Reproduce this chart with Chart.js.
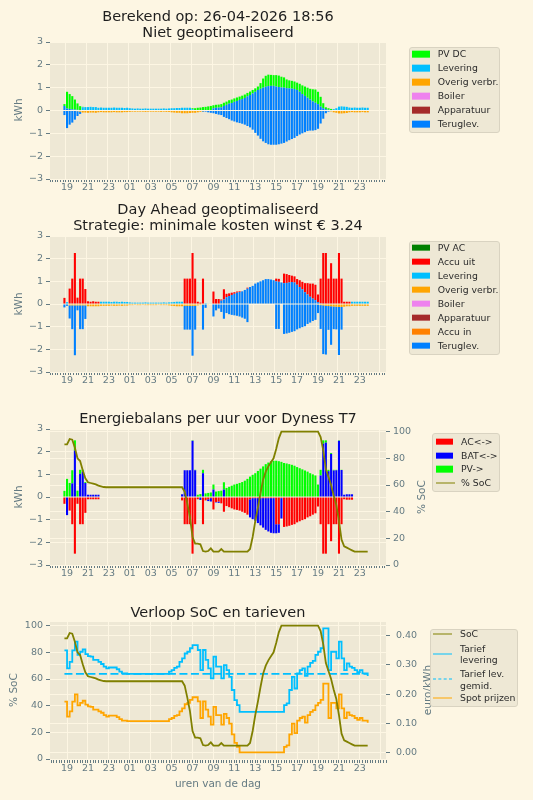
<!DOCTYPE html>
<html lang="nl">
<head>
<meta charset="utf-8">
<title>Day Ahead</title>
<script src="https://cdn.jsdelivr.net/npm/chart.js@4.4.1/dist/chart.umd.min.js"></script>
<style>
  body { margin: 0; background: #fdf6e3; font-family: "DejaVu Sans", sans-serif; }
  #pagina { position: relative; width: 533px; height: 800px; overflow: hidden; }
  canvas { position: absolute; left: 0; }
  .titel { position: absolute; left: 0; width: 436px; text-align: center; font-size: 14.5px; line-height: 16.5px; color: #1e1e1e; }
  .aslabel { position: absolute; font-size: 10.5px; color: #657b83; white-space: nowrap; transform: translate(-50%, -50%) rotate(-90deg); }
  .xlabel { position: absolute; font-size: 10.5px; color: #657b83; white-space: nowrap; transform: translate(-50%, -50%); }
  .legenda { position: absolute; box-sizing: border-box; background: #eee8d5; border: 1px solid #d9d3c1; border-radius: 3px; }
  .tekst { position: absolute; font-size: 9.3px; line-height: 11.5px; color: #2b2b2b; white-space: pre; transform: translateY(-50%); }
  .vlak, .lijn { position: absolute; transform: translateY(-50%); }
</style>
</head>
<body>
<div id="pagina">
  <canvas id="c1" width="533" height="200" style="top:0px"></canvas>
  <canvas id="c2" width="533" height="195" style="top:200px"></canvas>
  <canvas id="c3" width="533" height="195" style="top:395px"></canvas>
  <canvas id="c4" width="533" height="210" style="top:590px"></canvas>

  <div class="titel" style="top:7.5px">Berekend op: 26-04-2026 18:56<br>Niet geoptimaliseerd</div>
  <div class="titel" style="top:200.8px">Day Ahead geoptimaliseerd<br>Strategie: minimale kosten winst € 3.24</div>
  <div class="titel" style="top:410px">Energiebalans per uur voor Dyness T7</div>
  <div class="titel" style="top:603.5px">Verloop SoC en tarieven</div>

  <div class="aslabel" style="left:18px; top:110px">kWh</div>
  <div class="aslabel" style="left:18px; top:304px">kWh</div>
  <div class="aslabel" style="left:18px; top:497px">kWh</div>
  <div class="aslabel" style="left:421px; top:497px">% SoC</div>
  <div class="aslabel" style="left:13px; top:690px">% SoC</div>
  <div class="aslabel" style="left:427px; top:690px">euro/kWh</div>
  <div class="xlabel" style="left:218px; top:783px">uren van de dag</div>
</div>
<script>
// kwartierwaarden van 18:45 vandaag t/m 23:45 morgen (117 stuks)
const N = 117;
const tijden = [];
for (let i = 0; i < N; i++) tijden.push(-0.25 + 0.25 * i); // uren na 19:00

// ---- Niet geoptimaliseerd (kWh per kwartier)
const n_levering = [
  0,
  0,0,0,0,            0,0,.14,.15,        .15,.16,.15,.15,    .12,.13,.12,.12,    .12,.12,.13,.12,
  .12,.12,.11,.12,    .1,.09,.08,.09,     .08,.08,.09,.08,    .08,.08,.08,.08,    .08,.09,.08,.09,
  .1,.1,.11,.11,      .12,.12,.12,.12,    .06,0,0,0,          0,0,0,0,            0,0,0,0,
  0,0,0,0,            0,0,0,0,            0,0,0,0,            0,0,0,0,            0,0,0,0,
  0,0,0,0,            0,0,0,0,            0,0,0,0,            0,0,0,0,            0,0,0,0,
  0,.02,.06,.1,       .17,.18,.17,.16,    .13,.12,.13,.12,    .12,.13,.12,.12
];
const n_terugPos = [
  .2,
  .09,.07,.05,.04,    .03,.02,0,0,        0,0,0,0,            0,0,0,0,            0,0,0,0,
  0,0,0,0,            0,0,0,0,            0,0,0,0,            0,0,0,0,            0,0,0,0,
  0,0,0,0,            0,0,0,0,            0,0,0,0,            0,0,0,0,            .1,.12,.13,.14,
  .2,.25,.3,.33,      .38,.42,.46,.5,     .55,.62,.68,.75,    .82,.9,.95,1.0,     1.04,1.07,1.08,1.08,
  1.05,1.03,1.01,1.0, .98,.97,.96,.94,    .9,.82,.72,.64,     .56,.48,.4,.34,     .28,.17,.1,.06,
  .03,0,0,0,          0,0,0,0,            0,0,0,0,            0,0,0,0
];
const n_pvdc = [
  .08,
  .73,.65,.58,.44,    .28,.17,.02,0,      0,0,0,0,            0,0,0,0,            0,0,0,0,
  0,0,0,0,            0,0,0,0,            0,0,0,0,            0,0,0,0,            0,0,0,0,
  0,0,0,0,            0,0,0,0,            .04,.1,.12,.13,     .15,.16,.18,.2,     .13,.13,.13,.14,
  .14,.14,.15,.15,    .15,.15,.15,.15,    .15,.15,.15,.15,    .15,.15,.25,.4,     .48,.5,.48,.47,
  .5,.5,.47,.45,      .38,.35,.34,.33,    .32,.35,.38,.41,    .44,.47,.53,.58,    .54,.43,.22,.08,
  .07,.05,0,0,        0,0,0,0,            0,0,0,0,            0,0,0,0
];
const n_overig = [
  0,
  0,0,0,0,            -.03,-.05,-.09,-.09, -.1,-.09,-.09,-.1, -.08,-.07,-.08,-.08, -.08,-.08,-.07,-.08,
  -.08,-.08,-.07,-.07, -.06,-.05,-.05,-.05, -.05,-.05,-.06,-.05, -.05,-.05,-.05,-.05, -.06,-.05,-.06,-.06,
  -.08,-.09,-.1,-.1,  -.12,-.12,-.12,-.11, -.1,-.1,-.08,-.06, -.03,0,0,0,         0,0,0,0,
  0,0,0,0,            0,0,0,0,            0,0,0,0,            0,0,0,0,            0,0,0,0,
  0,0,0,0,            0,0,0,0,            0,0,0,0,            0,0,0,0,            0,0,0,0,
  0,-.04,-.08,-.1,    -.13,-.13,-.12,-.11, -.08,-.07,-.08,-.08, -.08,-.07,-.08,-.08
];
const n_teruglevering = [
  -.2,
  -.77,-.62,-.53,-.4, -.21,-.1,0,0,       0,0,0,0,            0,0,0,0,            0,0,0,0,
  0,0,0,0,            0,0,0,0,            0,0,0,0,            0,0,0,0,            0,0,0,0,
  0,0,0,0,            0,0,0,0,            0,0,0,0,            -.03,-.05,-.08,-.1, -.12,-.15,-.18,-.2,
  -.28,-.33,-.38,-.44, -.48,-.52,-.55,-.58, -.62,-.68,-.74,-.84, -.98,-1.1,-1.24,-1.35, -1.42,-1.48,-1.5,-1.5,
  -1.5,-1.48,-1.45,-1.42, -1.36,-1.3,-1.25,-1.2, -1.12,-1.05,-1.0,-.95, -.9,-.88,-.88,-.86, -.8,-.57,-.36,-.12,
  -.05,0,0,0,         0,0,0,0,            0,0,0,0,            0,0,0,0
];

// ---- Day Ahead geoptimaliseerd (kWh per kwartier)
const d_levering = [
  0,
  .08,0,0,0,          0,0,0,0,            0,0,0,0,            0,.1,.1,.1,         .1,.09,.1,.1,
  .09,.1,.09,.09,     .07,.06,.06,.06,    .06,.06,.07,.06,    .06,.06,.06,.06,    .06,.07,.06,.07,
  .08,.09,.1,.1,      .1,0,0,0,           0,0,0,0,            0,.04,.02,.02,      0,0,0,0,
  0,0,0,0,            0,0,0,0,            0,0,0,0,            0,0,0,0,            0,0,0,0,
  0,0,0,0,            0,0,0,0,            0,0,0,0,            0,0,0,0,            0,0,0,0,
  0,0,0,0,            0,0,0,0,            0,.1,.1,.1,         .1,.1,.1,.1
];
const d_terugPos = [
  0,
  0,0,0,0,            0,0,0,0,            0,0,0,0,            0,0,0,0,            0,0,0,0,
  0,0,0,0,            0,0,0,0,            0,0,0,0,            0,0,0,0,            0,0,0,0,
  0,0,0,0,            0,0,0,0,            0,0,0,0,            0,0,0,0,            0,0,0,.15,
  .2,.3,.35,.4,       .45,.5,.53,.56,     .62,.68,.75,.8,     .9,.95,1.0,1.05,    1.1,1.1,1.08,1.05,
  1.0,.98,.95,.92,    .93,.95,.97,.95,    .85,.75,.65,.52,    .42,.32,.24,.17,    .08,.03,0,0,
  0,0,0,0,            0,0,0,0,            0,0,0,0,            0,0,0,0
];
const d_accuUit = [
  .27,
  0,.68,1.12,2.25,    .28,1.12,1.12,.66,  .12,.1,.12,.1,      .1,0,0,0,           0,0,0,0,
  0,0,0,0,            0,0,0,0,            0,0,0,0,            0,0,0,0,            0,0,0,0,
  0,0,0,0,            0,1.12,1.12,1.12,   2.25,1.12,.1,.06,   1.12,0,0,0,         .55,.22,.22,.05,
  .45,.15,.12,.1,     .07,.05,.03,0,      0,.04,0,0,          0,0,0,0,            0,0,0,0,
  .12,.13,0,.42,      .39,.33,.28,.27,    .25,.3,.33,.4,      .5,.58,.66,.68,     .34,1.09,2.25,2.25,
  1.12,1.8,1.12,1.12, 2.25,1.12,.1,.1,    .1,0,0,0,           0,0,0,0
];
const d_overig = [
  0,
  0,-.06,-.06,-.06,   -.06,-.06,-.06,-.06, -.1,-.1,-.1,-.1,   -.1,-.08,-.08,-.08, -.08,-.07,-.08,-.08,
  -.07,-.08,-.07,-.07, -.05,-.05,-.04,-.05, -.05,-.04,-.05,-.05, -.05,-.05,-.05,-.04, -.05,-.05,-.05,-.06,
  -.08,-.09,-.1,-.1,  -.1,-.08,-.08,-.08, -.08,-.08,-.06,-.04, -.03,-.02,-.03,-.02, 0,0,0,0,
  0,0,0,0,            0,0,0,0,            0,0,0,0,            0,0,0,0,            0,0,0,0,
  0,0,0,0,            0,0,0,0,            0,0,0,0,            0,0,0,0,            -.03,-.05,-.06,-.08,
  -.09,-.1,-.11,-.12, -.13,-.13,-.12,-.1, -.1,-.08,-.08,-.08, -.08,-.08,-.08,-.08
];
const d_teruglevering = [
  -.15,
  -.08,-.58,-1.05,-2.2, -.22,-1.05,-1.05,-.6, 0,0,0,0,        0,0,0,0,            0,0,0,0,
  0,0,0,0,            0,0,0,0,            0,0,0,0,            0,0,0,0,            0,0,0,0,
  0,0,0,0,            0,-1.05,-1.05,-1.05, -2.2,-1.05,0,0,    -1.1,-.15,0,0,      -.55,-.28,-.2,-.35,
  -.65,-.4,-.45,-.48, -.5,-.52,-.55,-.6,  -.65,-.8,0,0,       0,0,0,0,            0,0,0,0,
  -1.1,-1.1,0,-1.32,  -1.3,-1.27,-1.23,-1.2, -1.12,-1.07,-1.02,-.98, -.88,-.82,-.75,-.7, -.37,-1.05,-2.15,-2.15,
  -1.05,-1.7,-1.0,-1.0, -2.12,-1.0,0,0,   0,0,0,0,            0,0,0,0
];

// ---- Energiebalans Dyness T7 (kWh per kwartier)
const e_ac = [
  -.3,
  0,-.6,-1.2,-2.5,    -.3,-1.2,-1.2,-.7,  -.1,-.1,-.1,-.1,    -.1,0,0,0,          0,0,0,0,
  0,0,0,0,            0,0,0,0,            0,0,0,0,            0,0,0,0,            0,0,0,0,
  0,0,0,0,            -.15,-1.2,-1.2,-1.2, -2.5,-1.2,-.1,0,   -1.2,-.15,-.1,-.05, -.55,-.22,-.2,-.28,
  -.65,-.4,-.45,-.5,  -.55,-.57,-.6,-.65, -.7,-.78,-.1,-.05,  -.05,-.05,-.05,-.05, -.05,-.05,-.05,-.05,
  -1.2,-1.2,-.05,-1.32, -1.3,-1.27,-1.23,-1.2, -1.12,-1.07,-1.02,-.98, -.9,-.85,-.78,-.72, -.42,-1.2,-2.5,-2.5,
  -1.2,-1.95,-1.2,-1.2, -2.5,-1.2,-.1,-.12, -.12,-.12,0,0,      0,0,0,0
];
const e_bat = [
  0,
  -.8,0,.6,2.05,      0,1.02,1.12,.62,    .1,.1,.1,.1,        .1,0,0,0,           0,0,0,0,
  0,0,0,0,            0,0,0,0,            0,0,0,0,            0,0,0,0,            0,0,0,0,
  0,0,0,0,            .12,1.18,1.18,1.18, 2.48,1.18,.02,-.13, 1.05,0,-.08,-.15,   .33,-.02,-.06,0,
  .33,0,0,0,          0,0,0,0,            0,0,-.8,-.93,       -1.0,-1.1,-1.2,-1.3, -1.4,-1.47,-1.53,-1.55,
  -.4,-.38,-.9,0,     0,0,0,0,            0,0,0,0,            0,0,0,0,            0,.95,2.35,2.4,
  1.14,1.9,1.17,1.18, 2.48,1.19,.1,.12,   .12,.12,0,0,        0,0,0,0
];
const e_pv = [
  .27,
  .8,.62,.58,.45,     .28,.18,.08,.04,    0,0,0,0,            0,0,0,0,            0,0,0,0,
  0,0,0,0,            0,0,0,0,            0,0,0,0,            0,0,0,0,            0,0,0,0,
  0,0,0,0,            0,0,0,0,            .02,.02,.08,.13,    .15,.16,.18,.2,     .22,.24,.26,.28,
  .32,.4,.45,.5,      .55,.58,.62,.66,    .72,.8,.9,.98,      1.05,1.15,1.25,1.35, 1.45,1.52,1.58,1.6,
  1.6,1.58,1.55,1.5,  1.48,1.45,1.42,1.38, 1.32,1.27,1.22,1.17, 1.12,1.05,1.0,.95, .55,.25,.15,.1,
  .06,.04,.03,.02,    .02,.01,0,0,        0,0,0,0,            0,0,0,0
];
const soc = [
  90.5,
  90.5,94.5,94,88,    80,78,71,65,        62,61.5,61,60.5,    59.5,59,58.5,58.3,  58.3,58.3,58.3,58.3,
  58.3,58.3,58.3,58.3, 58.3,58.3,58.3,58.3, 58.3,58.3,58.3,58.3, 58.3,58.3,58.3,58.3, 58.3,58.3,58.3,58.3,
  58.3,58.3,58.3,58.3, 58.3,55,46,36,     21,16,16,15.5,      10.5,10,10.5,12.5,  10,10,10,12,
  10,10,10,10,        10,10,10,10,        10,10,12,21,        33,43,54,64,        70,74,77,80,
  87,95,100,100,      100,100,100,100,    100,100,100,100,    100,100,100,100,    100,96,86,72,
  66,60,52,45,        33,19,14,13,        12,11,10,10,        10,10,10,10
];

// ---- Tarieven (euro/kWh)
const tariefLevering = [
  .35,
  .288,.31,.35,.38,   .334,.345,.353,.337, .33,.328,.317,.317, .31,.303,.294,.288, .291,.291,.291,.285,
  .277,.271,.271,.269, .269,.269,.269,.269, .269,.269,.269,.269, .269,.269,.269,.269, .269,.269,.269,.277,
  .282,.29,.294,.31,  .322,.339,.345,.357, .368,.368,.351,.282, .351,.317,.288,.254, .328,.294,.294,.254,
  .299,.282,.259,.214, .179,.162,.139,.139, .139,.139,.139,.139, .139,.139,.139,.139, .139,.139,.139,.139,
  .139,.139,.139,.162, .168,.214,.259,.219, .271,.282,.288,.262, .294,.307,.314,.334, .345,.357,.425,.425,
  .282,.345,.345,.322, .38,.322,.282,.305, .294,.29,.282,.275, .282,.271,.271,.262
];
const spotPrijs = [
  .174,
  .123,.141,.174,.199, .161,.17,.177,.164, .158,.156,.147,.147, .141,.136,.128,.123, .126,.126,.126,.121,
  .114,.109,.109,.107, .107,.107,.107,.107, .107,.107,.107,.107, .107,.107,.107,.107, .107,.107,.107,.114,
  .118,.125,.128,.141, .151,.165,.17,.18,  .189,.189,.175,.118, .175,.147,.123,.095, .156,.128,.128,.095,
  .132,.118,.099,.062, .033,.019,0,0,      0,0,0,0,            0,0,0,0,            0,0,0,0,
  0,0,0,.019,         .024,.062,.099,.066, .109,.118,.123,.102, .128,.139,.145,.161, .17,.18,.236,.236,
  .118,.17,.17,.151,  .199,.151,.118,.137, .128,.125,.118,.112, .118,.109,.109,.102
];
const tariefGemid = 0.269;

const yTicksKwh = [-3, -2, -1, 0, 1, 2, 3];
const yTicksSoc = [0, 20, 40, 60, 80, 100];
const yTicksEuro = [0, 0.1, 0.2, 0.3, 0.4];

[n_levering, n_terugPos, n_pvdc, n_overig, n_teruglevering, d_levering, d_terugPos, d_accuUit,
 d_overig, d_teruglevering, e_ac, e_bat, e_pv, soc, tariefLevering, spotPrijs].forEach((r, k) => {
  if (r.length !== N) throw new Error('reeks ' + k + ' heeft lengte ' + r.length);
});

// kleuren
const tickKleur = '#657b83';
const rasterKleur = '#fdf6e3';
const vlakKleur = '#eee8d5';
const kPV = '#00ff00', kLev = '#00bfff', kOverig = '#ffa500', kBoiler = '#ee82ee', kApp = '#a52a2a',
      kTerug = '#0080ff', kPVac = '#008000', kUit = '#ff0000', kIn = '#ff8000', kBat = '#0000ff', kSoc = '#808000';

// hulpfuncties
const kwartierTicks = [];
for (let v = -1.5; v <= 30.5 + 1e-9; v += 0.25) kwartierTicks.push(v);
const isHoofd = v => Math.abs(v / 2 - Math.round(v / 2)) < 1e-6;
const uurLabel = v => String((19 + Math.round(v)) % 24).padStart(2, '0');
const min = '\u2212';
const punten = r => r.map((y, i) => ({ x: tijden[i], y }));

function xSchaal(hoogte) {
  return {
    type: 'linear', min: -1.63, max: 30.5, stacked: true, offset: false,
    afterBuildTicks: s => { s.ticks = kwartierTicks.map(v => ({ value: v })); },
    afterFit: s => { s.height = hoogte; },
    ticks: { autoSkip: false, maxRotation: 0, minRotation: 0, padding: 0, color: tickKleur,
             font: { family: 'DejaVu Sans', size: 9.5 },
             callback: v => (isHoofd(v) && v <= 28.01) ? uurLabel(v) : '' },
    grid: { color: c => (c.tick && isHoofd(c.tick.value)) ? rasterKleur : 'rgba(0,0,0,0)',
            lineWidth: 1, tickColor: tickKleur, tickLength: 3 },
    border: { display: false }
  };
}
function ySchaal(positie, lo, hi, ticks, fmt, breedte, pad) {
  return {
    type: 'linear', position: positie, min: lo, max: hi,
    afterBuildTicks: s => { s.ticks = ticks.map(v => ({ value: v })); },
    afterFit: s => { s.width = breedte; },
    ticks: { color: tickKleur, padding: pad, font: { family: 'DejaVu Sans', size: 9.5 }, callback: fmt },
    grid: { color: rasterKleur, lineWidth: 1, tickColor: tickKleur, tickLength: 4 },
    border: { display: false }
  };
}
const fmtInt = v => (v < 0 ? min + Math.abs(v) : String(v));
const fmtEuro = v => v.toFixed(2);

const achtergrond = {
  id: 'achtergrond',
  beforeDraw(c) {
    const a = c.chartArea, ctx = c.ctx;
    ctx.save(); ctx.fillStyle = vlakKleur; ctx.fillRect(a.left, a.top, a.width, a.height); ctx.restore();
  }
};

function staaf(label, reeks, kleur) {
  return { type: 'bar', label, data: punten(reeks), backgroundColor: kleur, borderWidth: 0,
           barPercentage: 0.8, categoryPercentage: 1, order: 1, yAxisID: 'y' };
}
function basisOpties(padTop, padRechts, xHoogte) {
  return {
    responsive: false, animation: false, devicePixelRatio: 1,
    layout: { padding: { top: padTop, right: padRechts, bottom: 0, left: 0 } },
    plugins: { legend: { display: false }, tooltip: { enabled: false }, title: { display: false } },
    scales: { x: xSchaal(xHoogte) }
  };
}

Chart.defaults.font.family = 'DejaVu Sans';

// Paneel 1
const o1 = basisOpties(42, 147, 21);
o1.scales.y = Object.assign(ySchaal('left', -3, 3, yTicksKwh, fmtInt, 50, 3), { stacked: true });
new Chart(document.getElementById('c1'), {
  type: 'bar',
  data: { datasets: [
    staaf('Levering', n_levering, kLev),
    staaf('Teruglev.', n_terugPos, kTerug),
    staaf('PV DC', n_pvdc, kPV),
    staaf('Overig verbr.', n_overig, kOverig),
    staaf('Teruglev.', n_teruglevering, kTerug)
  ] },
  options: o1, plugins: [achtergrond]
});

// Paneel 2
const o2 = basisOpties(36, 147, 23);
o2.scales.y = Object.assign(ySchaal('left', -3, 3, yTicksKwh, fmtInt, 50, 3), { stacked: true });
new Chart(document.getElementById('c2'), {
  type: 'bar',
  data: { datasets: [
    staaf('Levering', d_levering, kLev),
    staaf('Teruglev.', d_terugPos, kTerug),
    staaf('Accu uit', d_accuUit, kUit),
    staaf('Overig verbr.', d_overig, kOverig),
    staaf('Teruglev.', d_teruglevering, kTerug)
  ] },
  options: o2, plugins: [achtergrond]
});

// Paneel 3
const o3 = basisOpties(34, 87, 25);
o3.scales.y = Object.assign(ySchaal('left', -3, 3, yTicksKwh, fmtInt, 50, 3), { stacked: true });
o3.scales.y2 = ySchaal('right', 0, 102, yTicksSoc, fmtInt, 60, 3);
new Chart(document.getElementById('c3'), {
  type: 'bar',
  data: { datasets: [
    { type: 'line', label: '% SoC', data: punten(soc), borderColor: kSoc, borderWidth: 1.8,
      pointRadius: 0, tension: 0, yAxisID: 'y2', order: 0 },
    staaf('AC<->', e_ac, kUit),
    staaf('BAT<->', e_bat, kBat),
    staaf('PV->', e_pv, kPV)
  ] },
  options: o3, plugins: [achtergrond]
});

// Paneel 4
const o4 = basisOpties(32, 87, 40);
o4.scales.x.stacked = false;
o4.scales.y = ySchaal('left', -0.75, 102.75, yTicksSoc, fmtInt, 50, 3);
o4.scales.y2 = ySchaal('right', -0.026, 0.447, yTicksEuro, fmtEuro, 60, 6);
new Chart(document.getElementById('c4'), {
  type: 'line',
  data: { datasets: [
    { label: 'SoC', data: punten(soc), borderColor: kSoc, borderWidth: 1.8, pointRadius: 0, tension: 0, yAxisID: 'y' },
    { label: 'Tarief levering', data: punten(tariefLevering), borderColor: kLev, borderWidth: 1.8,
      pointRadius: 0, stepped: true, yAxisID: 'y2' },
    { label: 'Tarief lev. gemid.', data: [{ x: tijden[0], y: tariefGemid }, { x: tijden[N - 1], y: tariefGemid }],
      borderColor: kLev, borderWidth: 1.8, borderDash: [8, 3.5], pointRadius: 0, yAxisID: 'y2' },
    { label: 'Spot prijzen', data: punten(spotPrijs), borderColor: kOverig, borderWidth: 1.8,
      pointRadius: 0, stepped: true, yAxisID: 'y2' }
  ] },
  options: o4, plugins: [achtergrond]
});

// Legenda's (HTML)
const pagina = document.getElementById('pagina');
function legenda(box, handleX, tekstX, rijen) {
  const d = document.createElement('div');
  d.className = 'legenda';
  Object.assign(d.style, { left: box[0] + 'px', top: box[1] + 'px', width: box[2] + 'px', height: box[3] + 'px' });
  pagina.appendChild(d);
  rijen.forEach(r => {
    const h = document.createElement('div');
    if (r.soort === 'vlak') {
      h.className = 'vlak';
      Object.assign(h.style, { left: handleX + 'px', top: r.y + 'px', width: '17.7px', height: '6.7px', background: r.kleur });
    } else {
      h.className = 'lijn';
      Object.assign(h.style, { left: handleX + 'px', top: r.y + 'px', width: '19px', height: '0px',
        borderTop: '1.8px ' + (r.soort === 'streep' ? 'dashed ' : 'solid ') + r.kleur });
    }
    pagina.appendChild(h);
    const t = document.createElement('div');
    t.className = 'tekst';
    t.textContent = r.label;
    Object.assign(t.style, { left: tekstX + 'px', top: r.y + 'px' });
    pagina.appendChild(t);
  });
}
const rij = (label, kleur, y, soort) => ({ label, kleur, y, soort: soort || 'vlak' });

legenda([409, 47, 91, 86], 412.3, 437.7, [
  rij('PV DC', kPV, 54), rij('Levering', kLev, 68), rij('Overig verbr.', kOverig, 82),
  rij('Boiler', kBoiler, 96), rij('Apparatuur', kApp, 110), rij('Teruglev.', kTerug, 124)
]);
legenda([409, 240.7, 91, 114.3], 412.3, 437.7, [
  rij('PV AC', kPVac, 247.5), rij('Accu uit', kUit, 261.5), rij('Levering', kLev, 275.5),
  rij('Overig verbr.', kOverig, 289.5), rij('Boiler', kBoiler, 303.5), rij('Apparatuur', kApp, 317.5),
  rij('Accu in', kIn, 331.5), rij('Teruglev.', kTerug, 345.5)
]);
legenda([432, 433, 68, 59], 435.7, 461, [
  rij('AC<->', kUit, 441.7), rij('BAT<->', kBat, 455.7), rij('PV->', kPV, 469.3), rij('% SoC', kSoc, 483.3, 'lijn')
]);
legenda([430, 629, 88, 78], 433, 460, [
  rij('SoC', kSoc, 634.3, 'lijn'), rij('Tarief\nlevering', kLev, 653.5, 'lijn'),
  rij('Tarief lev.\ngemid.', kLev, 679.2, 'streep'), rij('Spot prijzen', kOverig, 698.3, 'lijn')
]);
</script>
</body>
</html>
